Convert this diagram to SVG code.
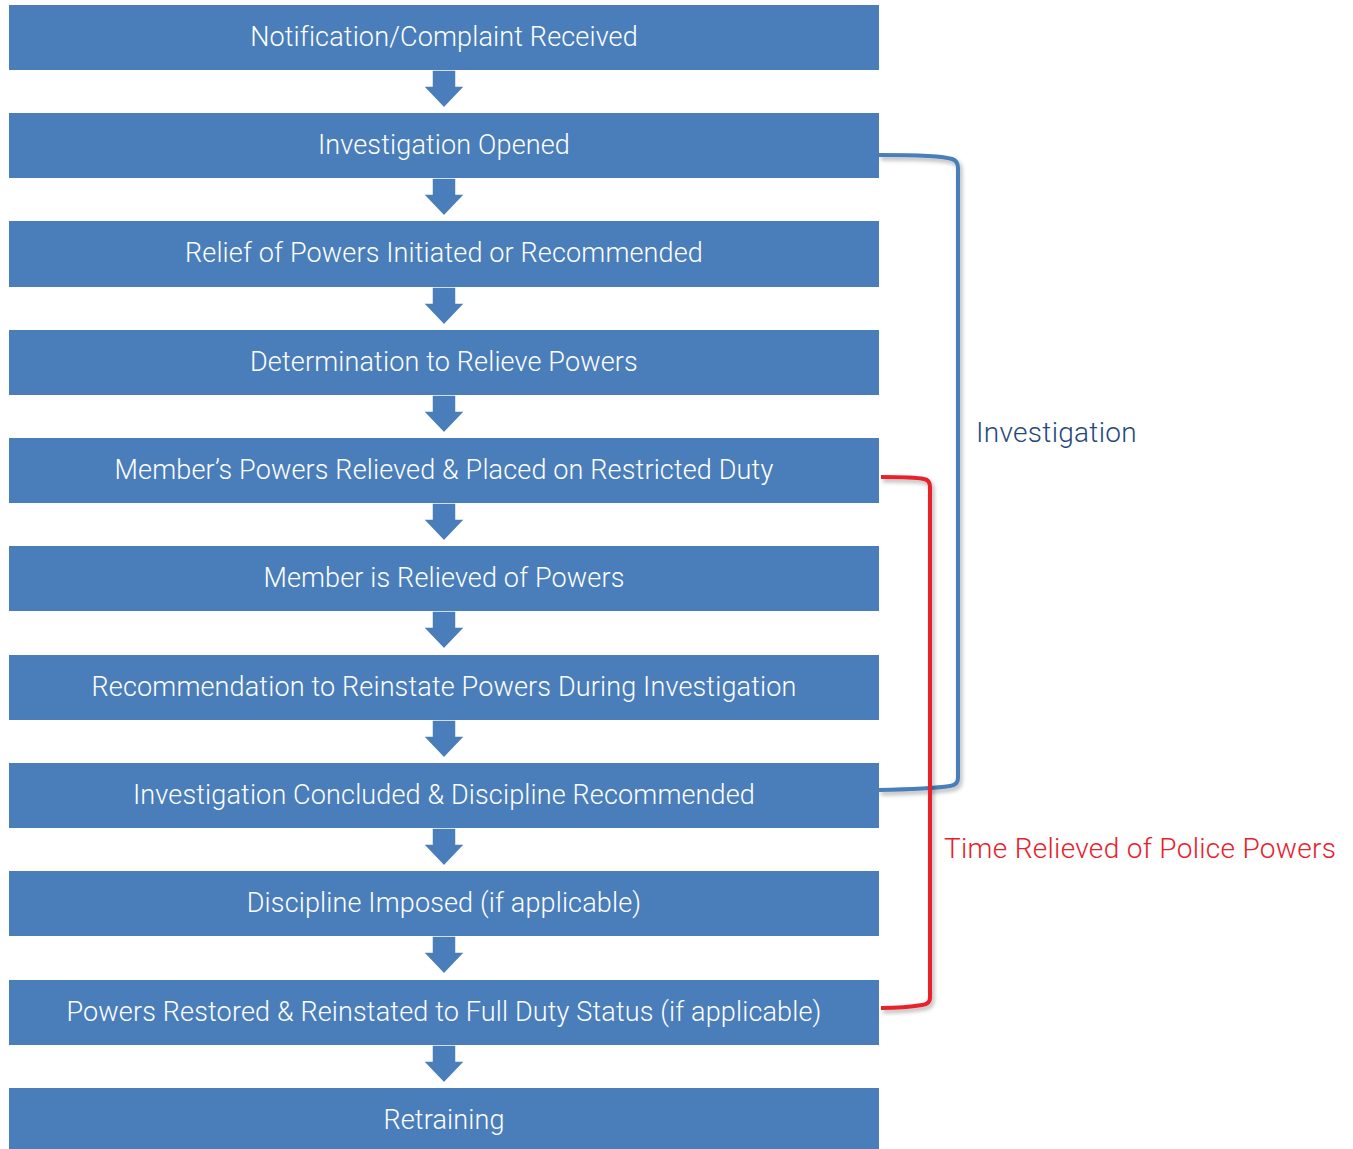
<svg xmlns="http://www.w3.org/2000/svg" width="1353" height="1149" viewBox="0 0 1353 1149">
<defs>
<style>
.box{fill:#4A7EBB;}
.lbl{font-family:Roboto,"Liberation Sans",sans-serif;font-weight:300;font-size:27px;letter-spacing:0.15px;fill:#FFFFFF;text-anchor:middle;}
.arr{fill:#4A7EBB;stroke:#FFFFFF;stroke-width:1.5;}
.brk{fill:none;stroke-width:4;stroke-linejoin:round;}
.side{font-family:Roboto,"Liberation Sans",sans-serif;font-weight:300;font-size:28px;letter-spacing:0.3px;}
</style>
<filter id="sh" x="-10%" y="-10%" width="130%" height="130%">
<feDropShadow dx="2" dy="3" stdDeviation="2" flood-color="#000" flood-opacity="0.3"/>
</filter>
<path id="ar" d="M432,0 H456 V16 H465 L444,38 L423,16 H432 Z"/>
</defs>
<rect width="1353" height="1149" fill="#FFFFFF"/>
<g id="connectors">
<use href="#ar" class="arr" transform="translate(0,70)"/>
<use href="#ar" class="arr" transform="translate(0,178)"/>
<use href="#ar" class="arr" transform="translate(0,287)"/>
<use href="#ar" class="arr" transform="translate(0,395)"/>
<use href="#ar" class="arr" transform="translate(0,503)"/>
<use href="#ar" class="arr" transform="translate(0,611)"/>
<use href="#ar" class="arr" transform="translate(0,720)"/>
<use href="#ar" class="arr" transform="translate(0,828)"/>
<use href="#ar" class="arr" transform="translate(0,936)"/>
<use href="#ar" class="arr" transform="translate(0,1045)"/>
<path class="brk" stroke="#4A7EBB" filter="url(#sh)" d="M879,155 Q940,155 952,159 Q958,161 958,168 V778 Q958,785 950,786 Q930,789 879,790"/>
<path class="brk" stroke="#E8202A" filter="url(#sh)" d="M881,477 Q915,477 924,479 Q930,480 930,487 V998 Q930,1004 922,1005 Q905,1008 881,1008"/>
</g>
<g id="n1"><rect class="box" x="9" y="5" width="870" height="65"/><text class="lbl" x="444" y="46">Notification/Complaint Received</text></g>
<g id="n2"><rect class="box" x="9" y="113" width="870" height="65"/><text class="lbl" x="444" y="154">Investigation Opened</text></g>
<g id="n3"><rect class="box" x="9" y="221" width="870" height="66"/><text class="lbl" x="444" y="262">Relief of Powers Initiated or Recommended</text></g>
<g id="n4"><rect class="box" x="9" y="330" width="870" height="65"/><text class="lbl" x="444" y="371">Determination to Relieve Powers</text></g>
<g id="n5"><rect class="box" x="9" y="438" width="870" height="65"/><text class="lbl" x="444" y="479">Member’s Powers Relieved &amp; Placed on Restricted Duty</text></g>
<g id="n6"><rect class="box" x="9" y="546" width="870" height="65"/><text class="lbl" x="444" y="587">Member is Relieved of Powers</text></g>
<g id="n7"><rect class="box" x="9" y="655" width="870" height="65"/><text class="lbl" x="444" y="696">Recommendation to Reinstate Powers During Investigation</text></g>
<g id="n8"><rect class="box" x="9" y="763" width="870" height="65"/><text class="lbl" x="444" y="804">Investigation Concluded &amp; Discipline Recommended</text></g>
<g id="n9"><rect class="box" x="9" y="871" width="870" height="65"/><text class="lbl" x="444" y="912">Discipline Imposed (if applicable)</text></g>
<g id="n10"><rect class="box" x="9" y="980" width="870" height="65"/><text class="lbl" x="444" y="1021">Powers Restored &amp; Reinstated to Full Duty Status (if applicable)</text></g>
<g id="n11"><rect class="box" x="9" y="1088" width="870" height="61"/><text class="lbl" x="444" y="1129">Retraining</text></g>
<text class="side" x="976" y="442" fill="#1F497D">Investigation</text>
<text class="side" x="944" y="858" fill="#E8202A">Time Relieved of Police Powers</text>
</svg>
